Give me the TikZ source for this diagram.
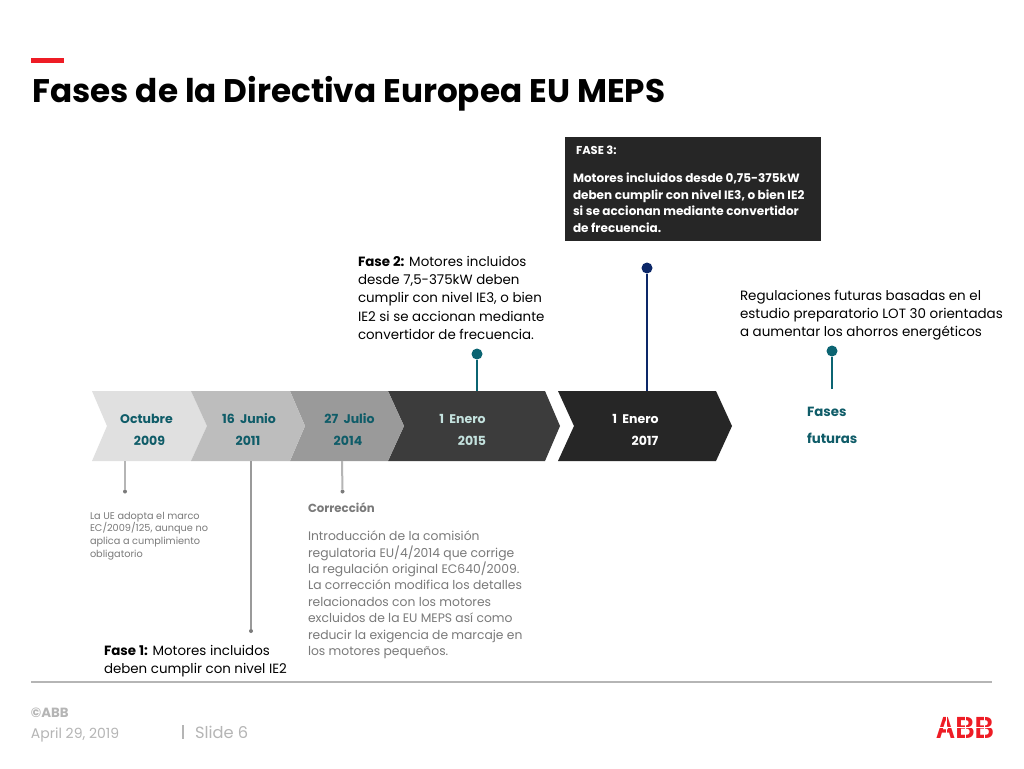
\documentclass[tikz,border=0pt]{standalone}
\usepackage{fontspec}
\setmainfont{Poppins}
\newfontfamily\logofont{Liberation Sans}
\definecolor{tealx}{HTML}{0F5C68}
\definecolor{dotteal}{HTML}{0B6472}
\definecolor{navyx}{HTML}{0C2768}
\definecolor{grayt}{HTML}{7A7A7A}
\definecolor{grayf}{HTML}{B5B5B5}
\definecolor{redx}{HTML}{EE1C25}
\definecolor{ink}{HTML}{262626}
\definecolor{cA}{HTML}{E0E0E0}
\definecolor{cB}{HTML}{BDBDBD}
\definecolor{cC}{HTML}{9A9A9A}
\definecolor{cD}{HTML}{3C3C3C}
\definecolor{lteal}{HTML}{C4E2DE}
\newcommand{\fs}[2]{\fontsize{#1}{#2}\selectfont}
\tikzset{
  x=0.75pt,y=-0.75pt,
  txt/.style={anchor=north west,inner sep=0pt,outer sep=0pt,align=left},
  lab/.style={inner sep=0pt,outer sep=0pt,font=\fs{9.4}{12}\bfseries,text=tealx},
  pin/.style={circle,fill=#1,inner sep=0pt,minimum size=8.25pt,outer sep=0pt},
  smalldot/.style={circle,fill=#1,inner sep=0pt,minimum size=3pt,outer sep=0pt},
  lightline/.style={draw=grayf,line width=1.5pt},
  thinline/.style={draw=cC,line width=0.9pt},
}
\begin{document}
\begin{tikzpicture}
\useasboundingbox (0,0) rectangle (1024,768);
\fill[white] (0,0) rectangle (1024,768);
% title
\fill[redx] (31,58) rectangle (64,62.5);
\node[inner sep=0pt,anchor=base west,font=\fs{24.5}{28}\bfseries] (title) at (32,102) {Fases de la Directiva Europea EU MEPS};
% connector ends on the chevrons
\coordinate (e1) at (125,461);
\coordinate (e2) at (251,461);
\coordinate (e3) at (342,461);
\coordinate (e4) at (477,391);
\coordinate (e5) at (647,391);
\coordinate (e6) at (832,389);
% chevrons
\fill[cA] (92,391) -- (191,391) -- (207,426) -- (191,461) -- (92,461) -- (107,426) -- cycle;
\fill[cD] (388,391) -- (545,391) -- (560,426) -- (545,461) -- (388,461) -- (404,426) -- cycle;
\fill[cC] (290,391) -- (388,391) -- (404,426) -- (388,461) -- (290,461) -- (305,426) -- cycle;
\fill[cB] (191,391) -- (290,391) -- (305,426) -- (290,461) -- (191,461) -- (207,426) -- cycle;
\fill[ink] (558,391) -- (716,391) -- (732,426) -- (716,461) -- (558,461) -- (574,426) -- cycle;
% chevron labels
\node[lab] (l1a) at (146.5,418.5) {Octubre};
\node[lab] (l1b) at (149.5,440.5) {2009};
\node[lab] (l2a) at (249,418.5) {16\ \ Junio};
\node[lab] (l2b) at (248,440.5) {2011};
\node[lab] (l3a) at (349.5,418.5) {27\ \ Julio};
\node[lab] (l3b) at (348,440.5) {2014};
\node[lab,text=lteal] (l4a) at (462.5,418.5) {1\ \ Enero};
\node[lab,text=lteal] (l4b) at (472,440.5) {2015};
\node[lab,text=white] (l5a) at (635.5,418.5) {1\ \ Enero};
\node[lab,text=white] (l5b) at (645,440.5) {2017};
% pins
\node[smalldot=cC!80!black] (d1) at (125,491.5) {};
\node[smalldot=cC!80!black] (d2) at (251,631) {};
\node[smalldot=cC!80!black] (d3) at (342.5,491.5) {};
\node[pin=dotteal] (d4) at (477,354) {};
\node[pin=navyx] (d5) at (647,268) {};
\node[pin=dotteal] (d6) at (832,351) {};
\draw[lightline] (e1) -- (d1);
\draw[thinline] (e2) -- (d2);
\draw[lightline] (e3) -- (d3);
\draw[draw=dotteal,line width=1.6pt] (e4) -- (d4);
\draw[draw=navyx,line width=1.6pt] (e5) -- (d5);
\draw[draw=dotteal,line width=1.6pt] (e6) -- (d6);
% Fase 3 box
\fill[ink] (565,137) rectangle (821,241);
\node[txt,text=white,font=\fs{8.6}{12}\bfseries] (f3h) at (576,145.5) {FASE 3:};
\node[txt,text=white,font=\fs{9.02}{12.4}\bfseries] (f3) at (573,173) {Motores incluidos desde 0,75-375kW\\deben cumplir con nivel IE3, o bien IE2\\si se accionan mediante convertidor\\de frecuencia.};
% text blocks
\node[txt,font=\fs{10.05}{13.7}] (f2) at (358,256) {\textbf{Fase 2:} Motores incluidos\\desde 7,5-375kW deben\\cumplir con nivel IE3, o bien\\IE2 si se accionan mediante\\convertidor de frecuencia.};
\node[txt,font=\fs{10.1}{13.7}] (fut) at (740,290) {Regulaciones futuras basadas en el\\estudio preparatorio LOT 30 orientadas\\a aumentar los ahorros energéticos};
\node[txt,text=tealx,font=\fs{10}{20.2}\bfseries] (ff) at (807,407.5) {Fases\\futuras};
\node[txt,text=grayt,font=\fs{7.3}{9.5}] (ue) at (90,512) {La UE adopta el marco\\EC/2009/125, aunque no\\aplica a cumplimiento\\obligatorio};
\node[txt,text=grayt,font=\fs{8.8}{12}\bfseries] (corrh) at (308,502.5) {Corrección};
\node[txt,text=grayt,font=\fs{9.25}{12.3}] (corr) at (308,531) {Introducción de la comisión\\regulatoria EU/4/2014 que corrige\\la regulación original EC640/2009.\\La corrección modifica los detalles\\relacionados con los motores\\excluidos de la EU MEPS así como\\reducir la exigencia de marcaje en\\los motores pequeños.};
\node[txt,font=\fs{10.05}{13.7}] (f1) at (104,645.5) {\textbf{Fase 1:} Motores incluidos\\deben cumplir con nivel IE2};
% footer
\coordinate (r1) at (31,682);
\coordinate (r2) at (992,682);
\draw[draw=grayf,line width=1.4pt] (r1) -- (r2);
\node[txt,text=grayf,font=\fs{10}{12}\bfseries] (c) at (31,708) {©ABB};
\node[txt,text=grayf,font=\fs{10.5}{12}] (dt) at (31,728) {April 29, 2019};
\coordinate (s1) at (183,725);
\coordinate (s2) at (183,739);
\draw[draw=grayf,line width=1pt] (s1) -- (s2);
\node[txt,text=grayf,font=\fs{12.2}{14}] (sl) at (195,726) {Slide 6};
% logo
\node[inner sep=0pt,anchor=base west,text=redx,font=\logofont\fs{23}{24}\bfseries] (abb) at (935.5,738) {\scalebox{0.88}[1]{ABB}};
\coordinate (g1) at (936,727.5);
\coordinate (g2) at (994,727.5);
\coordinate (g3) at (946.5,716);
\coordinate (g4) at (946.5,738);
\coordinate (g5) at (965,716);
\coordinate (g6) at (965,738);
\coordinate (g7) at (984,716);
\coordinate (g8) at (984,738);
\draw[white,line width=0.4pt] (g1) -- (g2);
\draw[white,line width=0.4pt] (g3) -- (g4);
\draw[white,line width=0.4pt] (g5) -- (g6);
\draw[white,line width=0.4pt] (g7) -- (g8);
\end{tikzpicture}
\end{document}
